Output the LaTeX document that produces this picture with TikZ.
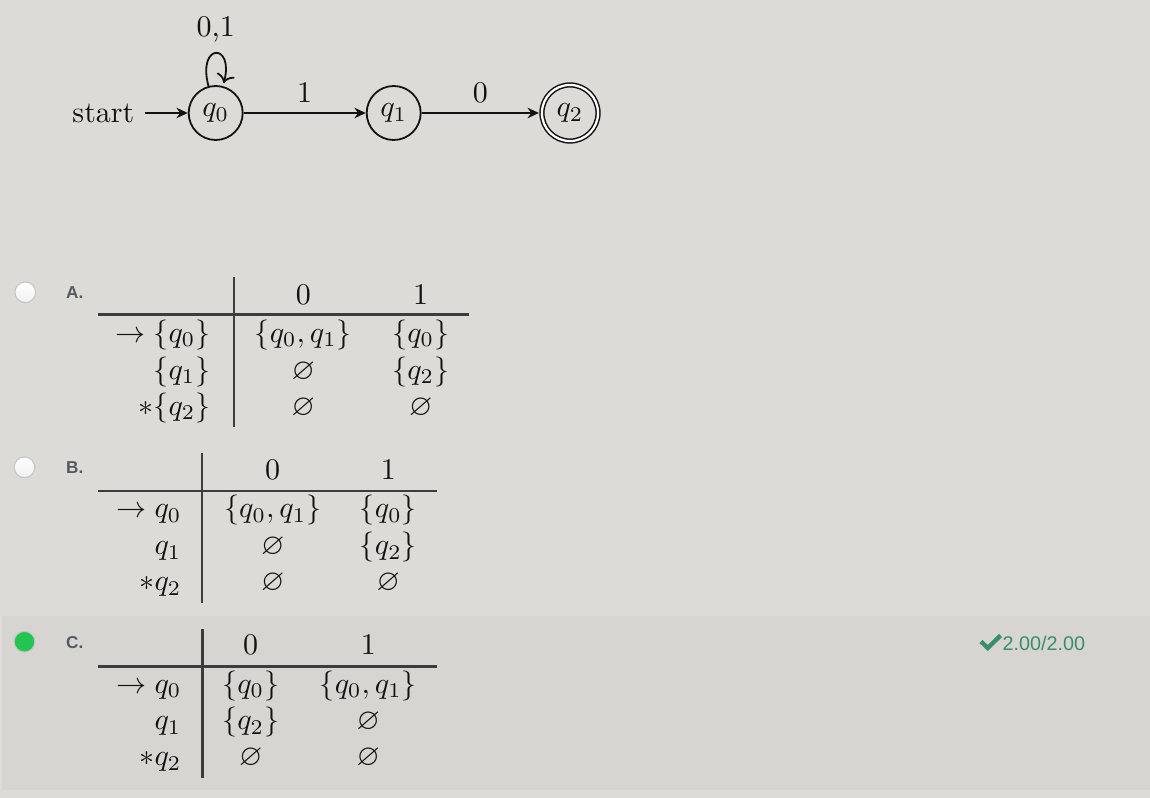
\documentclass[tikz,border=0pt]{standalone}
\usepackage{amssymb}
\usepackage{fontspec}
\newfontfamily\arialfont{Liberation Sans}
\usetikzlibrary{arrows.meta}
\definecolor{bgcol}{RGB}{220,219,215}
\definecolor{panelcol}{RGB}{214,213,209}
\definecolor{optcol}{RGB}{84,90,96}
\definecolor{scoregreen}{RGB}{58,142,104}
\definecolor{radiogreen}{RGB}{34,197,80}
\definecolor{radioborder}{RGB}{196,196,194}
\definecolor{txt}{RGB}{18,18,18}
\definecolor{rulecol}{RGB}{60,60,60}
\tikzset{
  autstate/.style={circle, draw=txt, line width=0.6pt, minimum size=18pt, inner sep=0pt, text=txt},
  autaccept/.style={circle, draw=txt, line width=0.5pt, minimum size=18.7pt, inner sep=0pt, double, double distance=0.75pt, outer sep=1pt, text=txt},
  aedge/.style={draw=txt, line width=0.6pt, -{Stealth[length=3.8pt,width=3.5pt]}},
  elabel/.style={text=txt},
  cell/.style={anchor=base, inner sep=0pt, text=txt},
  rowlab/.style={anchor=base east, inner sep=0pt, text=txt},
  tabrule/.style={draw=rulecol, line width=0.7pt},
  radio/.style={circle, minimum size=6.9pt, inner sep=0pt, draw=radioborder, line width=0.35pt, top color=white, bottom color=gray!12},
  radioon/.style={circle, minimum size=6.9pt, inner sep=0pt, draw=radioborder, line width=0.35pt, fill=radiogreen},
  optlabel/.style={anchor=base west, inner sep=0pt, text=optcol, font=\arialfont\bfseries\fontsize{5.73}{7}\selectfont},
  score/.style={anchor=base west, inner sep=0pt, text=scoregreen, font=\arialfont\fontsize{6.6}{8}\selectfont},
}
\begin{document}
\begin{tikzpicture}[x=0.33333pt, y=-0.33333pt]
\useasboundingbox (0,0) rectangle (1150,798);
\fill[bgcol] (0,0) rectangle (1150,798);
\fill[panelcol] (2.5,616) rectangle (1150,790.5);

% automaton
\node[autstate] (q0) at (215.7,113) {$q_0$};
\node[autstate] (q1) at (393.7,113) {$q_1$};
\node[autaccept] (q2) at (570,113) {$q_2$};
\node[anchor=east, text=txt] (start) at (145,113) {start};
\draw[aedge] (start) -- (q0);
\draw[aedge] (q0) -- node[above, elabel] (l1) {$1$} (q1);
\draw[aedge] (q1) -- node[above, elabel] (l0) {$0$} (q2);
\path (q0) edge[aedge, loop above] node[above, elabel] (l01) {0,1} ();

% option A
\node[radio] (radA) at (25.3,292.3) {};
\node[optlabel] (labA) at (65.5,299) {A.};
\draw[tabrule] (234.3,277.3) -- (234.3,426.7);
\draw[tabrule] (98.3,314.5) -- (469.3,314.5);
\node[cell] (Ah0) at (303.3,304.3) {$0$};
\node[cell] (Ah1) at (420.7,304.3) {$1$};
\node[rowlab] (Ar1) at (211,342.5) {$\to \{q_0\}$};
\node[rowlab] (Ar2) at (211,379.5) {$\{q_1\}$};
\node[rowlab] (Ar3) at (211,415.5) {$*\{q_2\}$};
\node[cell] (A10) at (303.3,342.5) {$\{q_0, q_1\}$};
\node[cell] (A11) at (420.7,342.5) {$\{q_0\}$};
\node[cell] (A20) at (303.3,379.5) {$\varnothing$};
\node[cell] (A21) at (420.7,379.5) {$\{q_2\}$};
\node[cell] (A30) at (303.3,415.5) {$\varnothing$};
\node[cell] (A31) at (420.7,415.5) {$\varnothing$};

% option B
\node[radio] (radB) at (24.5,467.3) {};
\node[optlabel] (labB) at (65.5,474) {B.};
\draw[tabrule] (202.3,452.7) -- (202.3,603.3);
\draw[tabrule] (98.3,490.7) -- (437.3,490.7);
\node[cell] (Bh0) at (272.7,480) {$0$};
\node[cell] (Bh1) at (388.3,480) {$1$};
\node[rowlab] (Br1) at (182,518) {$\to q_0$};
\node[rowlab] (Br2) at (182,555) {$q_1$};
\node[rowlab] (Br3) at (182,591) {$*q_2$};
\node[cell] (B10) at (272.7,518) {$\{q_0, q_1\}$};
\node[cell] (B11) at (388.3,518) {$\{q_0\}$};
\node[cell] (B20) at (272.7,555) {$\varnothing$};
\node[cell] (B21) at (388.3,555) {$\{q_2\}$};
\node[cell] (B30) at (272.7,591) {$\varnothing$};
\node[cell] (B31) at (388.3,591) {$\varnothing$};

% option C
\node[radioon] (radC) at (24.5,641.7) {};
\node[optlabel] (labC) at (65.5,648.3) {C.};
\draw[tabrule] (202.5,629.3) -- (202.5,778.3);
\draw[tabrule] (98.3,666.5) -- (437.3,666.5);
\node[cell] (Ch0) at (250.7,655) {$0$};
\node[cell] (Ch1) at (368.3,655) {$1$};
\node[rowlab] (Cr1) at (182,693.5) {$\to q_0$};
\node[rowlab] (Cr2) at (182,730) {$q_1$};
\node[rowlab] (Cr3) at (182,766) {$*q_2$};
\node[cell] (C10) at (250.7,693.5) {$\{q_0\}$};
\node[cell] (C11) at (368.3,693.5) {$\{q_0, q_1\}$};
\node[cell] (C20) at (250.7,730) {$\{q_2\}$};
\node[cell] (C21) at (368.3,730) {$\varnothing$};
\node[cell] (C30) at (250.7,766) {$\varnothing$};
\node[cell] (C31) at (368.3,766) {$\varnothing$};

% score
\draw[scoregreen, line width=1.45pt, line cap=butt, line join=miter] (981,641.5) -- (987.8,648) -- (1000.5,635.5);
\node[score] (scoretext) at (1002,650.7) {2.00/2.00};
\end{tikzpicture}
\end{document}
